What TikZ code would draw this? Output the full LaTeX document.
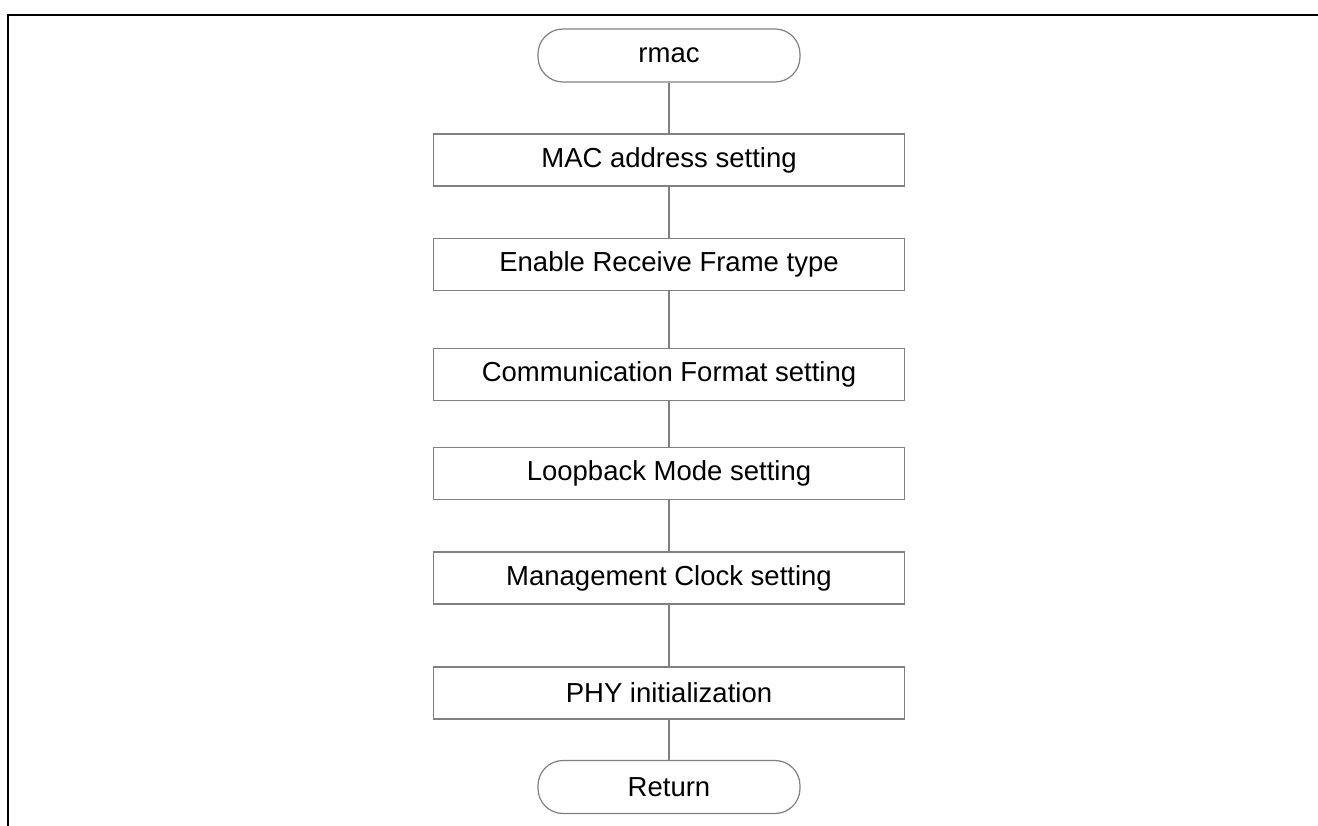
\documentclass[tikz,border=0pt]{standalone}
\usepackage{fontspec}
\setmainfont{Liberation Sans}
\begin{document}
\begin{tikzpicture}[x=1pt,y=-1pt,
  every node/.style={font=\fontsize{27.5}{33}\selectfont, inner sep=0pt},
  proc/.style={draw=black!50, line width=1.2pt, rectangle, minimum width=471pt, minimum height=52pt, fill=white},
  term/.style={draw=black!50, line width=1.2pt, rectangle, rounded corners=25pt, minimum width=262pt, minimum height=53pt, fill=white},
  link/.style={draw=black!50, line width=1.2pt},
  frame/.style={draw=black, line width=2.2pt}]
  \useasboundingbox (0,0) rectangle (1318,826);
  % page frame (top and left edges)
  \draw[frame] (1318,15) -- (8,15) -- (8,826);
  % flow steps
  \node[term] (start) at (669,55.5) {rmac};
  \node[proc] (mac) at (669,160) {MAC address setting};
  \node[proc] (rxtype) at (669,264.5) {Enable Receive Frame type};
  \node[proc] (fmt) at (669,374.5) {Communication Format setting};
  \node[proc] (loop) at (669,473.5) {Loopback Mode setting};
  \node[proc] (mclk) at (669,578) {Management Clock setting};
  \node[proc] (phy) at (669,693) {PHY initialization};
  \node[term] (ret) at (669,787) {Return};
  % connectors
  \draw[link] (start) -- (mac);
  \draw[link] (mac) -- (rxtype);
  \draw[link] (rxtype) -- (fmt);
  \draw[link] (fmt) -- (loop);
  \draw[link] (loop) -- (mclk);
  \draw[link] (mclk) -- (phy);
  \draw[link] (phy) -- (ret);
\end{tikzpicture}
\end{document}
